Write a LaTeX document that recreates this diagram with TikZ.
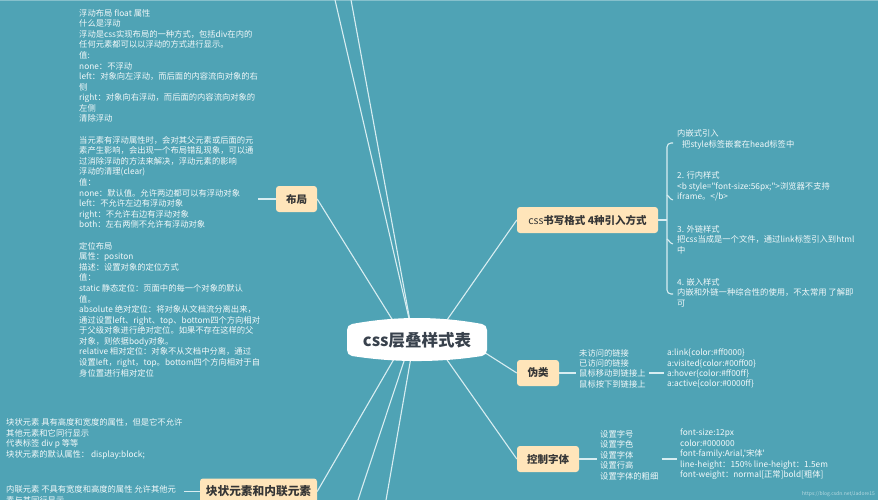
\documentclass[tikz,border=0pt]{standalone}
\usepackage{fontspec}
\newfontfamily\cjk{Noto Sans CJK SC}
\usetikzlibrary{calc}
\pgfdeclarelayer{back}
\pgfdeclarelayer{links}
\pgfsetlayers{back,links,main}
\definecolor{bgteal}{HTML}{4FA3B5}
\definecolor{topband}{HTML}{86C0CC}
\definecolor{boxfill}{HTML}{FFE5BA}
\definecolor{boxtext}{HTML}{363636}
\definecolor{roottext}{HTML}{38414C}
\definecolor{leafcol}{HTML}{F3F9FA}
\definecolor{linkcol}{HTML}{D8EDF1}
\begin{document}
\begin{tikzpicture}[x=1pt,y=-1pt,
  link/.style={draw=linkcol,line width=1.1pt},
  topic/.style={fill=boxfill,rounded corners=3pt,text=boxtext,inner sep=0pt,minimum height=26pt,font=\cjk\bfseries\fontsize{10.5}{12}\selectfont},
  leaf/.style={text=leafcol,inner sep=0pt,align=left,anchor=west,font=\cjk\fontsize{8.3}{10.5}\selectfont},
]
\useasboundingbox (0,0) rectangle (878,500);
\begin{pgfonlayer}{back}
\fill[bgteal] (0,0) rectangle (878,500);
\fill[topband] (0,0) rectangle (878,1.3);
\end{pgfonlayer}

% root
\begin{scope}[shift={(417,340)}]
\fill[white] (-70,-10) -- (-70,10) .. controls (-70,13) and (-68,15.5) .. (-65,16)
  .. controls (-22,22.7) and (22,22.7) .. (65,16)
  .. controls (68,15.5) and (70,13) .. (70,10) -- (70,-10)
  .. controls (70,-13) and (68,-15.5) .. (65,-16)
  .. controls (22,-24) and (-22,-24) .. (-65,-16)
  .. controls (-68,-15.5) and (-70,-13) .. (-70,-10) -- cycle;
\end{scope}
\node[font=\cjk\bfseries\fontsize{16.5}{19}\selectfont,text=roottext,inner sep=0pt] (root) at (417,340.5) {css层叠样式表};

% topics
\node[topic,minimum width=41pt] (buju) at (296.5,199) {布局};
\node[topic,minimum width=141pt] (css) at (587.5,220) {{\mdseries css}书写格式 4种引入方式};
\node[topic,minimum width=42pt] (wl) at (538,373) {伪类};
\node[topic,minimum width=62pt] (kz) at (548,459) {控制字体};
\node[topic,minimum width=117pt,font=\cjk\bfseries\fontsize{11.7}{13}\selectfont] (kuai) at (258.5,491.5) {块状元素和内联元素};

% layout text
\node[leaf,font=\cjk\fontsize{8.3}{10.59}\selectfont] (bujutxt) at (79,193) {浮动布局 float 属性\\什么是浮动\\浮动是css实现布局的一种方式，包括div在内的\\任何元素都可以以浮动的方式进行显示。\\值:\\none：不浮动\\left：对象向左浮动，而后面的内容流向对象的右\\侧\\right：对象向右浮动，而后面的内容流向对象的\\左侧\\清除浮动\\[10.59pt]当元素有浮动属性时，会对其父元素或后面的元\\素产生影响，会出现一个布局错乱现象，可以通\\过消除浮动的方法来解决，浮动元素的影响\\浮动的清理(clear)\\值：\\none：默认值。允许两边都可以有浮动对象\\left：不允许左边有浮动对象\\right：不允许右边有浮动对象\\both：左右两侧不允许有浮动对象\\[10.59pt]定位布局\\属性：positon\\描述：设置对象的定位方式\\值：\\static 静态定位：页面中的每一个对象的默认\\值。\\absolute 绝对定位：将对象从文档流分离出来，\\通过设置left、right、top、bottom四个方向相对\\于父级对象进行绝对定位。如果不存在这样的父\\对象，则依据body对象。\\relative 相对定位：对象不从文档中分离，通过\\设置left，right，top。bottom四个方向相对于自\\身位置进行相对定位};
\coordinate (bujuend) at (258,199);

% css children
\node[leaf] (ch1) at (677,139.5) {内嵌式引入\\\hspace*{5pt}把style标签嵌套在head标签中};
\node[leaf] (ch2) at (677,186.5) {2. 行内样式\\<b style="font-size:56px;">浏览器不支持\\iframe。</b>};
\node[leaf] (ch3) at (677,239.5) {3. 外链样式\\把css当成是一个文件，通过link标签引入到html\\中};
\node[leaf] (ch4) at (677,292.5) {4. 嵌入样式\\内嵌和外链一种综合性的使用，不太常用 了解即\\可};
\coordinate (stem) at (667,220);
\coordinate (b1) at (673,143);
\coordinate (b2) at (673,200);
\coordinate (b3) at (673,244);
\coordinate (b4) at (673,294);

% pseudo classes
\node[leaf,font=\cjk\fontsize{8.3}{10.3}\selectfont] (wltxt) at (579,368.5) {未访问的链接\\已访问的链接\\鼠标移动到链接上\\鼠标按下到链接上};
\node[leaf,font=\cjk\fontsize{8.3}{10.3}\selectfont] (wlcode) at (667,368.5) {a:link\{color:\#ff0000\}\\a:visited\{color:\#00ff00\}\\a:hover\{color:\#ff00ff\}\\a:active\{color:\#0000ff\}};

% fonts
\node[leaf] (kztxt) at (600,455) {设置字号\\设置字色\\设置字体\\设置行高\\设置字体的粗细};
\node[leaf] (kzcode) at (680,454.5) {font-size:12px\\color:\#000000\\font-family:Arial,'宋体'\\line-height：150\% line-height：1.5em\\font-weight：normal[正常]bold[粗体]};

% block / inline
\node[leaf] (kuaiA) at (6,439) {块状元素 具有高度和宽度的属性，但是它不允许\\其他元素和它同行显示\\代表标签 div p 等等\\块状元素的默认属性： display:block;};
\node[leaf] (kuaiB) at (6,495) {内联元素 不具有宽度和高度的属性 允许其他元\\素与其同行显示};
\coordinate (kuaiend) at (184,491.5);

% watermark
\node[text=white,opacity=0.6,inner sep=0pt,anchor=east,font=\cjk\fontsize{5}{6}\selectfont] (wm) at (875,494) {https://blog.csdn.net/Jadore15};

% connectors
\coordinate (topA) at (332.7,-10);
\coordinate (topB) at (349.2,-10);
\coordinate (botA) at (354.7,510);
\coordinate (botB) at (384.3,510);
\begin{pgfonlayer}{links}
\draw[link] ($(root.center)+(-3,-0.5)$) -- (topA);
\draw[link] ($(root.center)+(-3.5,-0.5)$) -- (topB);
\draw[link] ($(root.center)+(-12,-0.5)$) -- (buju.east);
\draw[link] ($(root.center)+(16,-0.5)$) -- (css.west);
\draw[link] ($(root.center)+(53,2.7)$) -- (wl.west);
\draw[link] ($(root.center)+(16,-0.5)$) -- (kz.west);
\draw[link] ($(root.center)+(-12,-0.5)$) -- (kuai.east);
\draw[link] ($(root.center)+(-6,-0.5)$) -- (botA);
\draw[link] ($(root.center)+(-3,-0.5)$) -- (botB);
\draw[link] (buju.west) -- (bujuend);
\draw[link] (css.east) -- (stem);
\draw[link,rounded corners=4pt] (b1) -| (stem) |- (b4);
\draw[link] ($(b2)+(-6,-4)$) to[out=90,in=180] (b2);
\draw[link] ($(b3)+(-6,-4)$) to[out=90,in=180] (b3);
\draw[link,shorten >=3.5pt] (wl.east) -- (wltxt.west |- wl.east);
\draw[link,shorten <=3pt,shorten >=3pt] (wltxt.east |- wl.east) -- (wlcode.west |- wl.east);
\draw[link,shorten >=3pt] (kz.east) -- (kztxt.west |- kz.east);
\draw[link,shorten <=3pt,shorten >=3pt] (kztxt.east |- kz.east) -- (kzcode.west |- kz.east);
\draw[link] (kuai.west) -- (kuaiend);
\end{pgfonlayer}
\end{tikzpicture}
\end{document}
